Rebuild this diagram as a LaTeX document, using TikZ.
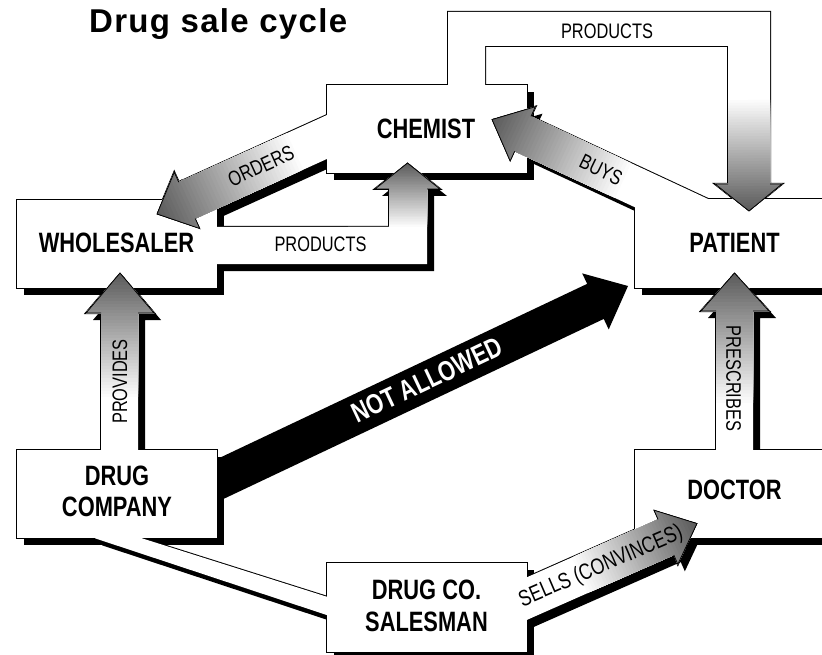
\documentclass[tikz,border=0pt]{standalone}
\usepackage{fontspec}
\setmainfont{Liberation Sans}
\newfontfamily\condf{Liberation Sans}[FakeStretch=0.78]
\newfontfamily\titlef{Liberation Sans}[LetterSpace=4]
\usetikzlibrary{calc}

% rotated arrow: Sx Sy Tx Ty halfwidth headlength headhalfwidth
\newcommand\dscarrow[7]{%
($(#1,#2)!#5pt!90:(#3,#4)$) --
($($(#3,#4)!#6pt!(#1,#2)$)!#5pt!90:(#3,#4)$) --
($($(#3,#4)!#6pt!(#1,#2)$)!#7pt!90:(#3,#4)$) --
(#3,#4) --
($($(#3,#4)!#6pt!(#1,#2)$)!#7pt!-90:(#3,#4)$) --
($($(#3,#4)!#6pt!(#1,#2)$)!#5pt!-90:(#3,#4)$) --
($(#1,#2)!#5pt!-90:(#3,#4)$) -- cycle}
\newcommand\dscarrowhead[7]{%
($($(#3,#4)!#6pt!(#1,#2)$)!#5pt!90:(#3,#4)$) --
($($(#3,#4)!#6pt!(#1,#2)$)!#7pt!90:(#3,#4)$) --
(#3,#4) --
($($(#3,#4)!#6pt!(#1,#2)$)!#7pt!-90:(#3,#4)$) --
($($(#3,#4)!#6pt!(#1,#2)$)!#5pt!-90:(#3,#4)$)}

% gradient from white at G (#1,#2) to dark at tip T (#3,#4)
\newcommand\dscgrad[4]{%
  \foreach \i in {1,...,40}{%
    \pgfmathsetmacro\dscfr{(\i-1)/40}%
    \pgfmathsetmacro\dsccol{64*\i/40}%
    \fill[black!\dsccol]
      ($($(#1,#2)!\dscfr!(#3,#4)$)!60pt!90:(#3,#4)$) --
      ($($(#1,#2)!\dscfr!(#3,#4)$)!60pt!-90:(#3,#4)$) --
      ($($(#1,#2)!1.5!(#3,#4)$)!60pt!90:(#1,#2)$) --
      ($($(#1,#2)!1.5!(#3,#4)$)!60pt!-90:(#1,#2)$) -- cycle;
  }%
}

\newcommand\dscBand{(210,227) -- (389,227) -- (389,189) -- (375,189) -- (407.5,163) -- (440,189) -- (427,189) -- (427,264) -- (210,264) -- cycle}
\newcommand\dscTop{(448,95) -- (448,12) -- (770,12) -- (770,184) -- (782,184) -- (749,211) -- (715,184) -- (728,184) -- (728,46) -- (485,46) -- (485,95) -- cycle}
\newcommand\dscProv{(101,460) -- (101,313) -- (86,313) -- (120,273) -- (154,313) -- (138,313) -- (138,460) -- cycle}
\newcommand\dscPresc{(716,460) -- (716,311) -- (701,311) -- (734.5,273) -- (769,311) -- (753,311) -- (753,460) -- cycle}
\newcommand\dscLink{(95,530) -- (142,530) -- (142,538.3) -- (326.7,596.7) -- (335,596.7) -- (335,615) -- (326.7,615) -- (95,538.3) -- cycle}
\newcommand\dscOrders{\dscarrow{345}{128.8}{157}{214}{20}{33}{31}}
\newcommand\dscBuys{\dscarrow{712}{222}{492}{119.5}{19.2}{34}{30}}
\newcommand\dscSells{\dscarrow{513.5}{604.5}{697}{523.5}{19.5}{34}{29.6}}

% every shape that casts a shadow
\newcommand\dscshadowed[1]{%
  \path[#1] (17,200) rectangle (217,288);
  \path[#1] (327,85) rectangle (527,173);
  \path[#1] (635,199) rectangle (845,288);
  \path[#1] (635,450) rectangle (845,538);
  \path[#1] (17,450) rectangle (217,538);
  \path[#1] (327,563) rectangle (527,652);
  \path[#1] \dscBand;
  \path[#1] \dscProv;
  \path[#1] \dscPresc;
  \path[#1] \dscLink;
  \path[#1] \dscOrders;
  \path[#1] \dscBuys;
  \path[#1] \dscSells;
}
\newcommand\dscallshapes[1]{%
  \dscshadowed{#1}%
  \path[#1] \dscTop;
}

\tikzset{
  boxlabel/.style={font=\condf\bfseries\fontsize{28}{31}\selectfont, align=center, inner sep=0pt},
  flowlabel/.style={font=\condf\fontsize{21}{23}\selectfont, inner sep=0pt},
  headline/.style={line width=0.8pt, line join=miter},
}

\begin{document}
\begin{tikzpicture}[x=1pt,y=-1pt]
\useasboundingbox (0,0) rectangle (822,655);
\clip (0,0) rectangle (822,655);

% shadows
\begin{scope}[shift={(7,7)}]
  \dscshadowed{fill=black}
\end{scope}
% union outline
\dscallshapes{draw=black, line width=2pt}
% white interiors
\dscallshapes{fill=white}

% gradients
\begin{scope}\clip \dscBand; \dscgrad{407.5}{227}{407.5}{163} \end{scope}
\begin{scope}\clip \dscTop; \dscgrad{748.5}{100}{749}{211} \end{scope}
\begin{scope}\clip \dscProv; \dscgrad{120}{397}{120}{273} \end{scope}
\begin{scope}\clip \dscPresc; \dscgrad{734.5}{403}{734.5}{273} \end{scope}
\begin{scope}\clip \dscOrders; \dscgrad{295}{151.5}{157}{214} \end{scope}
\begin{scope}\clip \dscBuys; \dscgrad{623}{180.6}{492}{119.5} \end{scope}
\begin{scope}\clip \dscSells; \dscgrad{580}{575.8}{697}{523.5} \end{scope}

% arrow head outlines
\draw[headline] (389,189) -- (375,189) -- (407.5,163) -- (440,189) -- (427,189);
\draw[headline] (728,184) -- (715,184) -- (749,211) -- (782,184) -- (770,184);
\draw[headline] (101,313) -- (86,313) -- (120,273) -- (154,313) -- (138,313);
\draw[headline] (716,311) -- (701,311) -- (734.5,273) -- (769,311) -- (753,311);
\draw[headline] \dscarrowhead{345}{128.8}{157}{214}{20}{33}{31};
\draw[headline] \dscarrowhead{712}{222}{492}{119.5}{19.2}{34}{30};
\draw[headline] \dscarrowhead{513.5}{604.5}{697}{523.5}{19.5}{34}{29.6};

% NOT ALLOWED arrow
\begin{scope}
  \clip (218,0) rectangle (822,655);
  \fill[black] \dscarrow{200}{488.6}{628}{286}{19.4}{36}{31};
\end{scope}

% texts
\node[anchor=base west, font=\titlef\bfseries\fontsize{33}{36}\selectfont, inner sep=0pt] (title) at (89,32.7) {Drug sale cycle};
\node[boxlabel] (wholesaler) at (116.5,243) {WHOLESALER};
\node[boxlabel] (chemist) at (426,129) {CHEMIST};
\node[boxlabel] (patient) at (734.5,243) {PATIENT};
\node[boxlabel] (doctor) at (734.5,490) {DOCTOR};
\node[boxlabel, font=\condf\bfseries\fontsize{28}{30.5}\selectfont] (drugco) at (117,491.5) {DRUG\\COMPANY};
\node[boxlabel, font=\condf\bfseries\fontsize{28}{32}\selectfont] (salesman) at (426.5,606) {DRUG CO.\\SALESMAN};

\node[flowlabel] (products1) at (320.5,244.5) {PRODUCTS};
\node[flowlabel] (products2) at (607,31) {PRODUCTS};
\node[flowlabel, rotate=24.5] (orders) at (261,166) {ORDERS};
\node[flowlabel, rotate=-25.8] (buys) at (601,170) {BUYS};
\node[flowlabel, rotate=90] (provides) at (120,381.5) {PROVIDES};
\node[flowlabel, rotate=-90] (prescribes) at (733.5,378.5) {PRESCRIBES};
\node[flowlabel, font=\condf\fontsize{22.5}{24}\selectfont, rotate=23.3] (sells) at (601,567) {SELLS (CONVINCES)};
\node[boxlabel, text=white, rotate=25.3] (notallowed) at (427,380) {NOT ALLOWED};
\end{tikzpicture}
\end{document}
